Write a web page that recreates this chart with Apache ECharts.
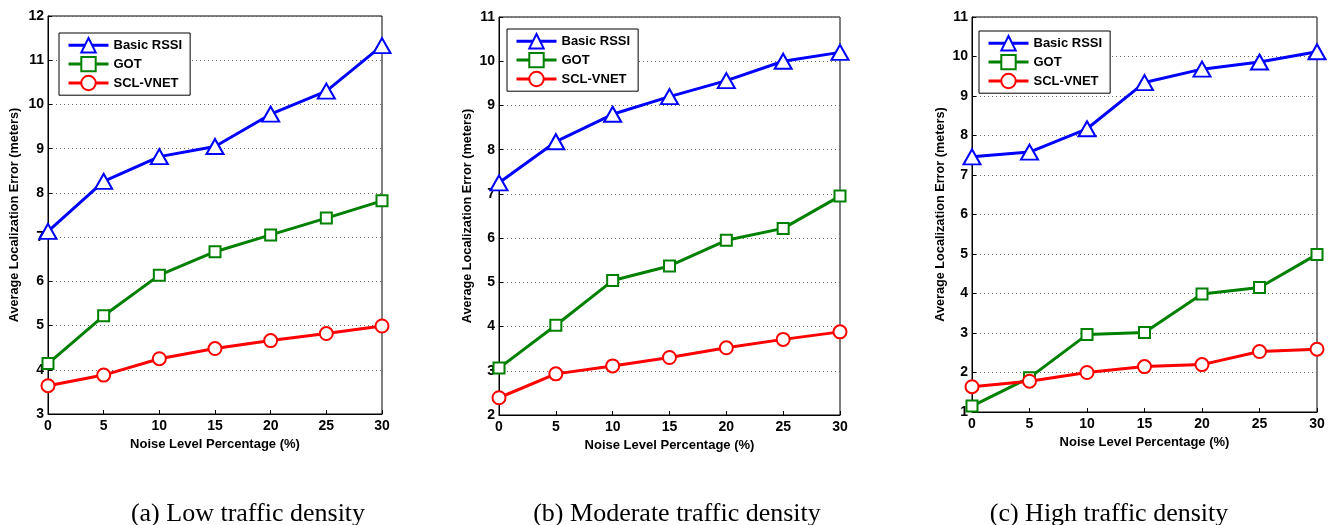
<!DOCTYPE html>
<html>
<head>
<meta charset="utf-8">
<script src="https://cdn.jsdelivr.net/npm/echarts@6/dist/echarts.min.js"></script>
<style>
html,body{margin:0;padding:0;background:#fff;}
#main{width:1328px;height:525px;}
</style>
</head>
<body>
<div id="main"></div>
<script>
// ---- data ----
const noiseLevels = [0, 5, 10, 15, 20, 25, 30];
const seriesNames = ['Basic RSSI', 'GOT', 'SCL-VNET'];
const captions = ['(a) Low traffic density', '(b) Moderate traffic density', '(c) High traffic density'];

// (a) Low traffic density
const lowBasicRSSI = [7.13, 8.26, 8.82, 9.05, 9.78, 10.3, 11.33];
const lowGOT       = [4.14, 5.22, 6.14, 6.67, 7.05, 7.43, 7.82];
const lowSCLVNET   = [3.64, 3.88, 4.25, 4.48, 4.66, 4.82, 4.99];

// (b) Moderate traffic density
const modBasicRSSI = [7.25, 8.18, 8.8, 9.2, 9.56, 10.0, 10.2];
const modGOT       = [3.06, 4.03, 5.04, 5.37, 5.95, 6.22, 6.95];
const modSCLVNET   = [2.39, 2.93, 3.11, 3.3, 3.52, 3.71, 3.88];

// (c) High traffic density
const highBasicRSSI = [7.46, 7.58, 8.17, 9.34, 9.68, 9.86, 10.12];
const highGOT       = [1.15, 1.87, 2.96, 3.01, 3.99, 4.15, 4.99];
const highSCLVNET   = [1.64, 1.78, 2.0, 2.15, 2.2, 2.53, 2.59];

const yRanges = [[3, 12], [2, 11], [1, 11]];
const panelData = [
  [lowBasicRSSI, lowGOT, lowSCLVNET],
  [modBasicRSSI, modGOT, modSCLVNET],
  [highBasicRSSI, highGOT, highSCLVNET]
];

// ---- styling / layout ----
const colors = ['#0000FF', '#008000', '#FF0000'];
const symbols = ['emptyTriangle', 'emptyRect', 'emptyCircle'];
const symbolSizes = [[17, 15], 11, 13];
const grids = [
  {left: 48, top: 16, width: 334, height: 398},
  {left: 499, top: 17, width: 341, height: 398},
  {left: 972, top: 17, width: 345, height: 395}
];
const yNameGaps = [27, 25, 25];
const legendPos = [{left: 59, top: 33}, {left: 507, top: 29}, {left: 979, top: 31}];
const captionCenters = [243, 672, 1104];

const font = 'Liberation Sans, Arial, sans-serif';

const option = {
  backgroundColor: '#fff',
  animation: false,
  grid: grids.map(g => Object.assign({show: true, borderColor: '#000', borderWidth: 1, containLabel: false}, g)),
  xAxis: grids.map((g, i) => ({
    type: 'value', gridIndex: i, min: 0, max: 30, interval: 5,
    name: 'Noise Level Percentage (%)', nameLocation: 'middle', nameGap: 23,
    nameTextStyle: {fontFamily: font, fontWeight: 'bold', fontSize: 13, color: '#000'},
    axisLine: {show: true, lineStyle: {color: '#000', width: 1}},
    axisTick: {show: true, inside: true, length: 4, lineStyle: {color: '#000'}},
    axisLabel: {fontFamily: font, fontWeight: 'bold', fontSize: 14, color: '#000', margin: 5},
    splitLine: {show: false}
  })),
  yAxis: grids.map((g, i) => ({
    type: 'value', gridIndex: i, min: yRanges[i][0], max: yRanges[i][1], interval: 1,
    name: 'Average Localization Error (meters)', nameLocation: 'middle', nameGap: yNameGaps[i],
    nameTextStyle: {fontFamily: font, fontWeight: 'bold', fontSize: 12.7, color: '#000'},
    axisLine: {show: true, lineStyle: {color: '#000', width: 1}},
    axisTick: {show: true, inside: true, length: 4, lineStyle: {color: '#000'}},
    axisLabel: {fontFamily: font, fontWeight: 'bold', fontSize: 14, color: '#000', margin: 4},
    splitLine: {show: true, lineStyle: {color: '#666', type: [1, 3], width: 1}}
  })),
  legend: legendPos.map(p => ({
    left: p.left, top: p.top, orient: 'vertical',
    data: seriesNames,
    itemWidth: 40, itemHeight: 18, itemGap: 2.5,
    padding: [4, 8, 4, 8],
    borderColor: '#000', borderWidth: 1, backgroundColor: '#fff',
    selectedMode: false,
    lineStyle: {width: 3},
    itemStyle: {borderWidth: 2.5},
    textStyle: {fontFamily: font, fontWeight: 'bold', fontSize: 13, color: '#000'}
  })),
  title: captions.map((c, i) => ({
    text: c, left: captionCenters[i], top: 496, textAlign: 'center',
    textStyle: {fontFamily: 'Liberation Serif, Times New Roman, serif', fontWeight: 'normal', fontSize: 26, color: '#000'}
  })),
  series: []
};

panelData.forEach((sets, p) => {
  sets.forEach((vals, s) => {
    option.series.push({
      type: 'line', name: seriesNames[s], xAxisIndex: p, yAxisIndex: p,
      data: noiseLevels.map((x, k) => [x, vals[k]]),
      symbol: symbols[s], symbolSize: symbolSizes[s], showAllSymbol: true,
      lineStyle: {color: colors[s], width: 3},
      itemStyle: {color: colors[s], borderColor: colors[s], borderWidth: 2.5},
      z: 3 + s
    });
  });
});

const chart = echarts.init(document.getElementById('main'), null, {renderer: 'canvas'});
chart.setOption(option);
</script>
</body>
</html>
